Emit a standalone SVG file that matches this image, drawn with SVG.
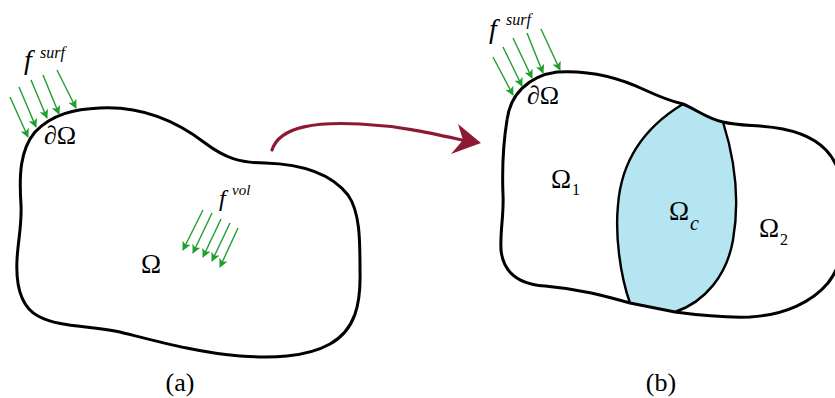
<svg xmlns="http://www.w3.org/2000/svg" width="835" height="398" viewBox="0 0 835 398">
<style>
.outline{fill:none;stroke:#000;stroke-width:3;stroke-linejoin:round}
.lens{fill:#b5e5f0;stroke:none}
.lensedge{fill:none;stroke:#000;stroke-width:2.4}
.g{stroke:#1e9e2e;stroke-width:1.4;fill:none}
.t{font-family:"Liberation Serif","Times New Roman",serif;fill:#000}
.i{font-style:italic}
</style>
<defs>
<marker id="ga" viewBox="0 0 10 10" refX="9" refY="5" markerWidth="9" markerHeight="9" markerUnits="userSpaceOnUse" orient="auto">
<path d="M0,0 L10,5 L0,10 L2.5,5 Z" fill="#1e9e2e"/>
</marker>
</defs>

<g id="domain-a">
<path class="outline" d="M100,108 C140,106 175,120 205,143 C225,158 240,163 265,163 C300,164 330,172 348,195 C360,212 360,240 360,270 C361,305 355,330 330,344 C305,358 270,358 240,356 C200,353 160,342 120,332 C90,325 60,328 38,316 C18,305 16,280 17,260 C18,240 22,225 21,205 C19,175 20,150 35,132 C52,114 75,109 100,108 Z"/>
<text class="t" x="141" y="273" font-size="27">Ω</text>
<text class="t" x="44" y="144" font-size="26">∂Ω</text>
</g>

<g id="surf-load-a">
<g class="g" marker-end="url(#ga)">
<line x1="10" y1="97" x2="28" y2="137"/>
<line x1="19" y1="87" x2="36" y2="127"/>
<line x1="31" y1="80" x2="47" y2="118"/>
<line x1="43" y1="75" x2="59" y2="114"/>
<line x1="57" y1="70" x2="76" y2="108"/>
</g>
<text class="t i" x="24" y="69" font-size="28">f</text>
<text class="t i" x="40" y="58" font-size="16">surf</text>
</g>

<g id="vol-load-a">
<g class="g" marker-end="url(#ga)">
<line x1="203" y1="210" x2="183" y2="250"/>
<line x1="212" y1="213" x2="193" y2="253"/>
<line x1="221" y1="219" x2="203" y2="257"/>
<line x1="230" y1="223" x2="212" y2="261"/>
<line x1="238" y1="228" x2="220" y2="267"/>
</g>
<text class="t i" x="219" y="206" font-size="24">f</text>
<text class="t i" x="232" y="195" font-size="15">vol</text>
</g>

<g id="domain-b">
<path class="lens" d="M683,104 C697,110 708,119 723,122 C735,160 740,200 733,240 C727,275 705,302 675,312 C660,309 645,306 630,303 C620,275 615,235 618,205 C621,165 640,130 683,104 Z"/>
<path class="lensedge" d="M723,122 C735,160 740,200 733,240 C727,275 705,302 675,312"/>
<path class="lensedge" d="M630,303 C620,275 615,235 618,205 C621,165 640,130 683,104"/>
<path class="outline" d="M557,72 C590,70 620,78 645,90 C660,97 670,101 683,104 C697,110 708,119 723,122 C735,125 745,125 760,126 C790,128 812,135 826,150 C840,165 845,185 845,210 C845,245 842,265 828,283 C812,302 785,315 750,317 C720,318 697,315 675,312 C660,309 645,306 630,303 C605,296 580,289 545,286 C515,284 503,270 501,250 C500,230 504,215 503,195 C502,170 503,145 507,120 C510,95 528,76 557,72 Z"/>
<text class="t" x="527" y="104" font-size="26">∂Ω</text>
<text class="t" x="551" y="188" font-size="27">Ω</text>
<text class="t" x="572" y="195" font-size="16">1</text>
<text class="t" x="669" y="220" font-size="27">Ω</text>
<text class="t i" x="690" y="230" font-size="20">c</text>
<text class="t" x="759" y="237" font-size="27">Ω</text>
<text class="t" x="780" y="245" font-size="16">2</text>
</g>

<g id="surf-load-b">
<g class="g" marker-end="url(#ga)">
<line x1="493" y1="57" x2="513" y2="95"/>
<line x1="503" y1="47" x2="522" y2="86"/>
<line x1="513" y1="38" x2="532" y2="78"/>
<line x1="527" y1="33" x2="543" y2="73"/>
<line x1="541" y1="29" x2="560" y2="70"/>
</g>
<text class="t i" x="489" y="38" font-size="28">f</text>
<text class="t i" x="506" y="25" font-size="16">surf</text>
</g>

<g id="connectors">
<path d="M272,150 C280,125 320,122 360,124 C400,126 430,133 462,140" fill="none" stroke="#8c1a34" stroke-width="3.2" stroke-linecap="round"/>
<path d="M481,143 L458,124 L463,140 L451,154 Z" fill="#8c1a34"/>
</g>

<text class="t" x="180" y="391" font-size="26" text-anchor="middle">(a)</text>
<text class="t" x="661" y="391" font-size="26" text-anchor="middle">(b)</text>
</svg>
